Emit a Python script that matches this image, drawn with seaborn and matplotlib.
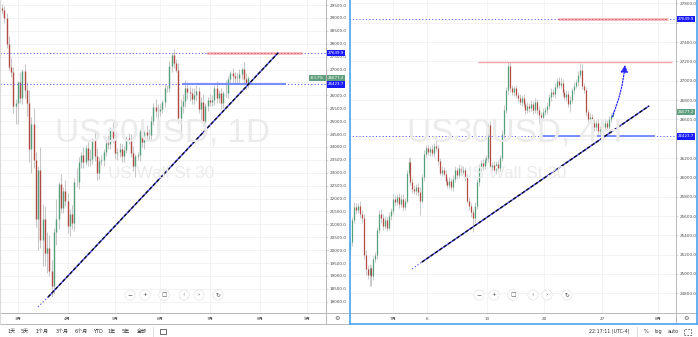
import numpy as np
import pandas as pd
import matplotlib
matplotlib.use("Agg")
import matplotlib.pyplot as plt
import matplotlib.transforms as mtransforms
from matplotlib.lines import Line2D
from matplotlib.patches import Rectangle
import seaborn as sns

W, H = 698, 337

# ---------------- data ----------------
# Left panel: US30USD daily candles (open of bar i = close of bar i-1)
L_open0 = 29400
L_close = [29300, 29000, 28000, 27100, 26900, 25600, 25700, 26500, 25900, 26950,
           26200, 25700, 23900, 24900, 23500, 21200, 23100, 20400, 21200, 19900,
           20100, 19200, 18600, 20700, 21200, 22550, 21650, 22300, 21900, 20950,
           21400, 21050, 22650, 22650, 23400, 23700, 23400, 23950, 23500, 23550,
           24250, 23650, 23000, 23450, 23500, 23800, 24150, 24100, 24650, 24350,
           23750, 23800, 23900, 23650, 23880, 24350, 24250, 23750, 23250, 23650,
           23700, 24600, 24200, 24580, 24480, 24450, 25000, 25550, 25400, 25380,
           25480, 25750, 26280, 26290, 27120, 27580, 27270, 27000, 25130, 25600,
           25760, 26300, 26120, 26080, 25870, 26020, 26160, 25450, 25750, 25020,
           25600, 25810, 25730, 25830, 26290, 25890, 26070, 25710, 26080, 26090,
           26640, 26870, 26740, 26670, 26680, 26840, 27010, 26650, 26470, 26677.2]
L_wick_up = [120, 150, 200, 300, 350, 200, 150, 60, 400, 80,
             250, 300, 500, 250, 600, 300, 150, 900, 600, 500,
             600, 500, 400, 150, 800, 100, 400, 150, 400, 300,
             200, 350, 150, 550, 200, 100, 300, 120, 250, 350,
             80, 350, 300, 150, 200, 100, 250, 300, 120, 300,
             250, 150, 250, 200, 150, 80, 200, 250, 300, 60,
             120, 100, 300, 80, 250, 200, 200, 150, 300, 250,
             200, 80, 150, 100, 200, 60, 200, 150, 250, 250,
             300, 300, 200, 250, 200, 250, 250, 150, 200, 300,
             100, 120, 250, 200, 100, 250, 150, 200, 80, 500,
             100, 80, 200, 150, 200, 180, 80, 300, 200, 60]
L_wick_dn = [150, 200, 150, 100, 200, 300, 700, 800, 200, 250,
             300, 500, 500, 900, 300, 300, 1200, 300, 1000, 500,
             800, 200, 400, 300, 500, 400, 200, 200, 200, 300,
             400, 250, 300, 200, 300, 200, 200, 100, 250, 250,
             200, 200, 300, 250, 150, 250, 150, 200, 200, 200,
             200, 250, 200, 250, 250, 100, 150, 150, 200, 400,
             150, 250, 200, 300, 200, 200, 200, 150, 250, 300,
             200, 150, 200, 150, 150, 200, 200, 100, 200, 800,
             300, 200, 250, 300, 200, 200, 250, 150, 400, 200,
             250, 200, 150, 150, 200, 200, 200, 250, 200, 150,
             200, 150, 250, 200, 250, 200, 200, 250, 250, 200]
L_month_labels = ['3月', '4月', '5月', '6月', '7月', '8月', '9月']
L_month_idx = [7, 29, 50, 70, 92, 114, 135]

# Right panel: US30USD 4H candles
R_open0 = 25250
R_close = [25330, 25560, 25690, 25660, 25700, 25620, 25580, 25200, 25050, 24990,
           25060, 24980, 25150, 25200, 25450, 25620, 25580, 25500, 25560, 25480,
           25600, 25650, 25780, 25740, 25800, 25720, 25780, 25690, 25760, 26050,
           26160, 25950, 25880, 25860, 25900, 25850, 25760, 26000, 26240, 26300,
           26260, 26290, 26250, 26320, 26300, 26170, 26050, 26080, 26040, 25960,
           25920, 25960, 25900, 25980, 26080, 26020, 26100, 26060, 26080, 26000,
           25760, 25700, 25640, 25580, 25700, 25950, 26100, 26150, 26120, 26180,
           26200, 26540, 26110, 26130, 26080, 26140, 26100, 26200, 26450, 26700,
           26900, 27150, 26920, 26880, 26920, 26850, 26820, 26780, 26820, 26760,
           26700, 26740, 26720, 26760, 26700, 26780, 26700, 26650, 26620, 26680,
           26700, 26740, 26830, 26880, 26860, 26940, 27000, 26960, 26980, 26880,
           26830, 26860, 26760, 26800, 26900, 26950, 26990, 27060, 27110, 26950,
           26900, 26680, 26600, 26630, 26560, 26520, 26560, 26480, 26500, 26540,
           26520, 26560, 26520, 26600, 26640, 26677.2]
R_wick_up = [40, 30, 50, 40, 30, 60, 40, 40, 50, 40,
             40, 30, 40, 30, 40, 40, 50, 40, 40, 30,
             40, 30, 50, 40, 30, 40, 40, 50, 30, 30,
             40, 50, 40, 40, 30, 40, 50, 30, 40, 30,
             40, 30, 40, 40, 100, 40, 30, 40, 30, 40,
             30, 40, 30, 40, 40, 30, 40, 30, 40, 30,
             40, 40, 30, 30, 40, 30, 40, 30, 40, 30,
             30, 20, 40, 30, 40, 30, 40, 30, 40, 50,
             40, 40, 40, 40, 30, 40, 30, 40, 30, 40,
             30, 40, 30, 40, 30, 40, 30, 40, 30, 40,
             30, 40, 30, 40, 30, 40, 30, 40, 50, 40,
             30, 40, 30, 40, 30, 40, 30, 40, 70, 60,
             30, 40, 30, 40, 30, 40, 30, 40, 30, 40,
             30, 40, 30, 40, 30, 20]
R_wick_dn = [60, 40, 30, 40, 30, 40, 50, 40, 60, 40,
             110, 100, 40, 30, 40, 30, 50, 40, 30, 40,
             30, 40, 30, 40, 30, 40, 30, 40, 30, 30,
             40, 30, 40, 30, 40, 40, 150, 30, 40, 30,
             30, 40, 30, 40, 30, 40, 30, 40, 30, 40,
             30, 40, 30, 40, 30, 40, 30, 40, 30, 40,
             30, 40, 50, 150, 40, 30, 40, 30, 40, 30,
             30, 40, 30, 40, 30, 40, 30, 40, 30, 40,
             30, 40, 40, 30, 40, 30, 40, 30, 40, 30,
             40, 30, 40, 30, 40, 30, 40, 90, 30, 40,
             30, 40, 30, 40, 30, 40, 30, 40, 30, 40,
             30, 40, 30, 80, 30, 40, 30, 40, 30, 40,
             30, 40, 30, 40, 30, 40, 30, 40, 30, 40,
             30, 40, 30, 40, 30, 20]
R_day_labels = ['7月', '6', '13', '20', '27', '8月']
R_day_idx = [22, 39.5, 70.3, 99.5, 129.2, 158]

level_hi = 27639.9
level_lo = 26423.7
last_price = 26677.2
last_change = '-8.57%'
R_resist = 27191

# price-scale ticks hidden behind the price labels (as in the reference)
L_hidden_ticks = [26500]
R_hidden_ticks = [27600, 26400]

# trend lines: (bar index, price) anchors  [stub start, line start, line end]
L_trend_x = [15.9, 20.4, 122.1]
L_trend_y = [17795, 18182, 27639.9]
R_trend_x = [31.8, 36.9, 153.3]
R_trend_y = [25052, 25124, 26739]
# segments for the marked zones (bar index ranges)
L_pink_rng = [90.7, 132.7]
L_blue_rng = [79.6, 125.7]
R_pink_rng = [106.7, 163.1]
R_blue_rng = [97.4, 156.4]
R_red_rng = [65.6, 165.1]
R_arrow_x = [134.4, 141.0]
R_arrow_y = [26625, 27164]

range_buttons = ['1天', '5天', '1个月', '3个月', '6个月', 'YTD', '1年', '5年', '全部']

# ---------------- style ----------------
sns.set_theme(style="white")
plt.rcParams['font.family'] = ['DejaVu Sans', 'Noto Sans CJK SC']

GREEN = '#55a07a'
RED = '#b04a42'
WICK = '#c6c6c6'
GRID = '#f1f1f4'
AXC = '#b8b8bc'
TXT = '#4a4a4a'
BLUE_LBL = '#1a1aff'
DOT_BLUE = '#5a5aff'

fig = plt.figure(figsize=(W / 100, H / 100), dpi=100)
fig.patch.set_facecolor('white')

def fx(x): return x / W
def fy(y): return 1 - y / H

axL = fig.add_axes([fx(0), fy(313), 326 / W, 313 / H])
axR = fig.add_axes([fx(349), fy(313), 327 / W, 313 / H])

def make_df(open0, close, wu, wd):
    c = np.array(close, float)
    o = np.concatenate([[open0], c[:-1]])
    hi = np.maximum(o, c) + np.array(wu, float)
    lo = np.minimum(o, c) - np.array(wd, float)
    return pd.DataFrame(dict(i=np.arange(len(c)), o=o, c=c, hi=hi, lo=lo))

dfL = make_df(L_open0, L_close, L_wick_up, L_wick_dn)
dfR = make_df(R_open0, R_close, R_wick_up, R_wick_dn)

def candles(ax, df, body_lw, wick_lw):
    ax.vlines(df.i, df.lo, df.hi, color=WICK, lw=wick_lw, zorder=3)
    up = df[df.c >= df.o]
    dn = df[df.c < df.o]
    ax.vlines(up.i, up.o, up.c, color=GREEN, lw=body_lw, zorder=4)
    ax.vlines(dn.i, dn.c, dn.o, color=RED, lw=body_lw, zorder=4)

def setup(ax, xlim, ylim, yticks, hidden, xt, xl):
    ax.set_facecolor('white')
    ax.set_xlim(*xlim)
    ax.set_ylim(*ylim)
    ax.yaxis.tick_right()
    ax.set_yticks(yticks)
    ax.set_yticklabels(['' if v in hidden else f"{v:.1f}" for v in yticks])
    ax.set_xticks(xt)
    ax.set_xticklabels(xl)
    ax.tick_params(axis='y', labelsize=3, colors=TXT, length=1.4, width=0.4, pad=1.2)
    ax.tick_params(axis='y', color=AXC)
    ax.tick_params(axis='x', labelsize=3, colors=TXT, length=0, pad=2.6)
    ax.grid(True, color=GRID, lw=0.6)
    ax.set_axisbelow(True)
    for s in ['left', 'top']:
        ax.spines[s].set_visible(False)
    for s in ['right', 'bottom']:
        ax.spines[s].set_color(AXC)
        ax.spines[s].set_linewidth(0.7)

setup(axL, (-0.885, 143.36), (17562, 29694), list(range(18000, 29501, 500)), L_hidden_ticks,
      L_month_idx, L_month_labels)
setup(axR, (-0.513, 167.18), (24596, 27836), list(range(24800, 27801, 200)), R_hidden_ticks,
      R_day_idx, R_day_labels)

candles(axL, dfL, body_lw=1.0, wick_lw=0.75)
candles(axR, dfR, body_lw=0.9, wick_lw=0.65)

# watermarks
for ax, title, cx in [(axL, 'US30USD, 1D', 163), (axR, 'US30USD, 4H', 515)]:
    fig.text(fx(cx), fy(133), title, ha='center', va='center', fontsize=24,
             family='Liberation Sans', color='#ebebeb', zorder=0)
    fig.text(fx(cx - 2), fy(173), 'US Wall St 30', ha='center', va='center', fontsize=12.3,
             family='Liberation Sans', color='#ebebeb', zorder=0)

# horizontal levels
dotted = (0, (1.2, 2.2))
for ax in (axL, axR):
    ax.axhline(level_hi, color=DOT_BLUE, lw=0.7, ls=dotted, zorder=5)
    ax.axhline(level_lo, color=DOT_BLUE, lw=0.7, ls=dotted, zorder=5)

axL.hlines(level_hi, *L_pink_rng, color='#f7b3b9', lw=2.0, zorder=5)
axL.hlines(level_hi, *L_pink_rng, color='#cf5f6a', lw=0.6, ls=(0, (2, 2)), zorder=6)
axL.hlines(level_lo, *L_blue_rng, color='#6f86ff', lw=1.3, zorder=5)
axR.hlines(level_hi, *R_pink_rng, color='#f7b3b9', lw=2.0, zorder=5)
axR.hlines(level_hi, *R_pink_rng, color='#cf5f6a', lw=0.6, ls=(0, (2, 2)), zorder=6)
axR.hlines(level_lo, *R_blue_rng, color='#6f86ff', lw=1.3, zorder=5)
axR.hlines(R_resist, *R_red_rng, color='#f5a3a6', lw=1.0, zorder=5)

# trend lines
for ax, tx, ty in [(axL, L_trend_x, L_trend_y), (axR, R_trend_x, R_trend_y)]:
    tdf = pd.DataFrame(dict(x=tx, y=ty))
    sns.lineplot(data=tdf.iloc[0:2], x='x', y='y', ax=ax, color=DOT_BLUE, lw=0.8,
                 ls=(0, (1.2, 1.8)), zorder=7, legend=False)
    sns.lineplot(data=tdf.iloc[1:3], x='x', y='y', ax=ax, color='#4848ff', lw=1.0,
                 zorder=7, legend=False)
    sns.lineplot(data=tdf.iloc[1:3], x='x', y='y', ax=ax, color='#111111', lw=1.0,
                 ls=(0, (2.4, 1.4)), zorder=8, legend=False)
    ax.set_xlabel('')
    ax.set_ylabel('')

# projected arrow
axR.annotate('', xy=(R_arrow_x[1], R_arrow_y[1]), xytext=(R_arrow_x[0], R_arrow_y[0]),
             arrowprops=dict(arrowstyle='-|>,head_length=0.35,head_width=0.18', color='#2a2aff',
                             lw=0.9, ls=(0, (1.2, 1.2)), connectionstyle='arc3,rad=0.08',
                             shrinkA=0, shrinkB=0), zorder=9)

# price labels on the scales
def price_label(ax, y, text, fc, xoff_pt=1.3):
    tr = mtransforms.blended_transform_factory(ax.transAxes, ax.transData)
    ax.annotate(text, xy=(1.0, y), xycoords=tr, xytext=(xoff_pt, 0), textcoords='offset points',
                ha='left', va='center', fontsize=2.9, color='white', clip_on=False, zorder=20,
                bbox=dict(boxstyle='square,pad=0.3', fc=fc, ec='none'))

for ax in (axL, axR):
    price_label(ax, level_hi, f"{level_hi:.1f}", BLUE_LBL)
    price_label(ax, level_lo, f"{level_lo:.1f}", BLUE_LBL)
    price_label(ax, last_price, f"{last_price:.1f}", '#5f9f7d')
trL = mtransforms.blended_transform_factory(axL.transAxes, axL.transData)
axL.annotate(last_change, xy=(1.0, last_price), xycoords=trL, xytext=(-1.2, 0),
             textcoords='offset points', ha='right', va='center', fontsize=2.9, color='white',
             zorder=20, bbox=dict(boxstyle='square,pad=0.3', fc='#5f9f7d', ec='none'))

# navigation buttons
nav = ['−', '+', '▢', '‹', '›', '↻']
for xs in ([130, 145, 164, 184, 199, 218], [479, 494, 513, 533, 547, 567]):
    for x, s in zip(xs, nav):
        fig.text(fx(x), fy(295), s, ha='center', va='center', fontsize=4.2, color='#555555',
                 zorder=30, bbox=dict(boxstyle='circle,pad=0.45', fc='white', ec='#e4e4e4', lw=0.5))

# frame lines
def fline(x0, y0, x1, y1, color, lw=0.7):
    fig.add_artist(Line2D([fx(x0), fx(x1)], [fy(y0), fy(y1)], color=color, lw=lw,
                          transform=fig.transFigure, zorder=40))

fline(0, 313, 349, 313, AXC)
fline(0, 323.5, 349, 323.5, AXC)
fline(326, 0, 326, 323.5, AXC)
fline(0.4, 0, 0.4, 323.5, '#d8d8d8')
fline(676, 313, 697, 313, AXC)
fline(675.5, 313, 675.5, 323, AXC)
fline(349.5, 0, 349.5, 323.5, '#4aa3f0', 1.2)
fline(349.5, 323.5, 697.5, 323.5, '#4aa3f0', 1.2)
fline(697.3, 0, 697.3, 323.5, '#4aa3f0', 1.2)
fline(153, 327, 153, 337, '#dddddd')
fline(637, 327, 637, 337, '#dddddd')

# gear icons
for x in (337, 686):
    fig.text(fx(x), fy(318.5), '⚙', ha='center', va='center', fontsize=4.5, color='#555555', zorder=41)

# bottom toolbar
for x, s in zip([12, 25, 42, 62, 81, 98, 112, 126, 142], range_buttons):
    fig.text(fx(x), fy(331.5), s, ha='center', va='center', fontsize=3.6, color='#333333')
fig.text(fx(609), fy(331.5), '22:17:11 (UTC-4)', ha='center', va='center', fontsize=3.4, color='#333333')
for x, s in zip([646, 658, 673], ['%', 'log', 'auto']):
    fig.text(fx(x), fy(331.5), s, ha='center', va='center', fontsize=3.6, color='#333333')

# icon shapes (no installed glyph): compare icon and fullscreen icon
fig.add_artist(Rectangle((fx(159.5), fy(334)), 6 / W, 5 / H, fill=False, ec='#555555', lw=0.6,
                         transform=fig.transFigure))
fig.add_artist(Rectangle((fx(684), fy(334.5)), 7 / W, 6 / H, fill=False, ec='#555555', lw=0.6,
                         ls=(0, (2, 1.5)), transform=fig.transFigure))

fig.savefig('out.png', dpi=100, facecolor='white')
